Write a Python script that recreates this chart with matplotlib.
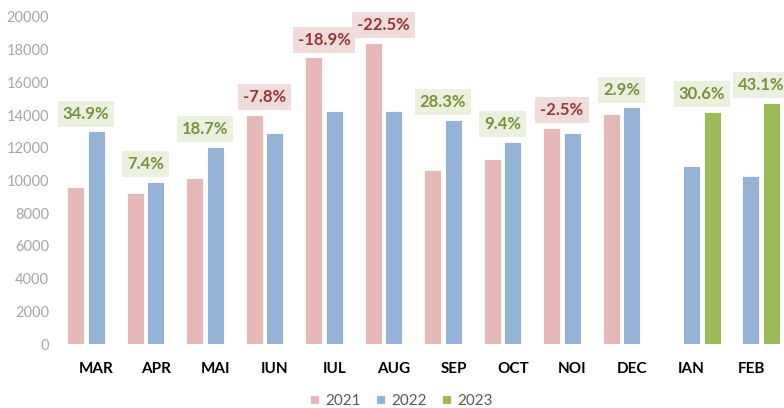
import numpy as np
import matplotlib.pyplot as plt

# Data
months = ['MAR', 'APR', 'MAI', 'IUN', 'IUL', 'AUG', 'SEP', 'OCT', 'NOI', 'DEC', 'IAN', 'FEB']
v2021 = [9600, 9250, 10150, 14000, 17530, 18430, 10640, 11315, 13210, 14070, np.nan, np.nan]
v2022 = [13000, 9910, 12070, 12920, 14230, 14250, 13720, 12355, 12925, 14480, 10890, 10300]
v2023 = [np.nan] * 10 + [14210, 14740]
pct_labels = ['34.9%', '7.4%', '18.7%', '-7.8%', '-18.9%', '-22.5%',
              '28.3%', '9.4%', '-2.5%', '2.9%', '30.6%', '43.1%']

plt.rcParams['font.family'] = ['Lato', 'DejaVu Sans']

fig = plt.figure(figsize=(7.84, 4.08), dpi=100)
ax = fig.add_axes([60 / 784, 64 / 408, 724 / 784, 327 / 408])

x = np.arange(len(months))
step = 0.352
width = 0.285
colors = ['#E6B9B8', '#95B3D7', '#9BBB59']
ax.bar(x - step, v2021, width, color=colors[0], edgecolor='white', linewidth=0.6, label='2021')
ax.bar(x, v2022, width, color=colors[1], edgecolor='white', linewidth=0.6, label='2022')
ax.bar(x + step, v2023, width, color=colors[2], edgecolor='white', linewidth=0.6, label='2023')

# Percentage labels above each pair of bars
for i, lab in enumerate(pct_labels):
    vals = [v for v in (v2021[i], v2022[i], v2023[i]) if not np.isnan(v)]
    if np.isnan(v2021[i]):
        xc = x[i] + step / 2
    else:
        xc = x[i] - step / 2
    neg = lab.startswith('-')
    tcol = '#953735' if neg else '#77933C'
    bcol = '#F2DCDB' if neg else '#EBF1DE'
    ax.annotate(lab, (xc, max(vals)), xytext=(0, 7), textcoords='offset points',
                ha='center', va='bottom', fontsize=12, fontweight='bold', color=tcol,
                bbox=dict(boxstyle='square,pad=0.3', facecolor=bcol, edgecolor='none'),
                annotation_clip=False)

ax.set_ylim(0, 20000)
ax.set_yticks(np.arange(0, 20001, 2000))
ax.set_xlim(-0.613, 11.555)
ax.set_xticks(x)
ax.set_xticklabels(months, fontsize=11, fontweight='bold', color='black')
ax.tick_params(axis='x', length=0, pad=13)
ax.tick_params(axis='y', length=0, labelsize=10.5, labelcolor='#A6A6A6', pad=8)
for s in ax.spines.values():
    s.set_visible(False)

fig.legend(loc='center', bbox_to_anchor=(401 / 784, 1 - 401 / 408), ncol=3, frameon=False,
           fontsize=11, labelcolor='#595959', handlelength=0.6, handleheight=0.6,
           handletextpad=0.4, columnspacing=1.0)

plt.savefig('out.png', dpi=100)
